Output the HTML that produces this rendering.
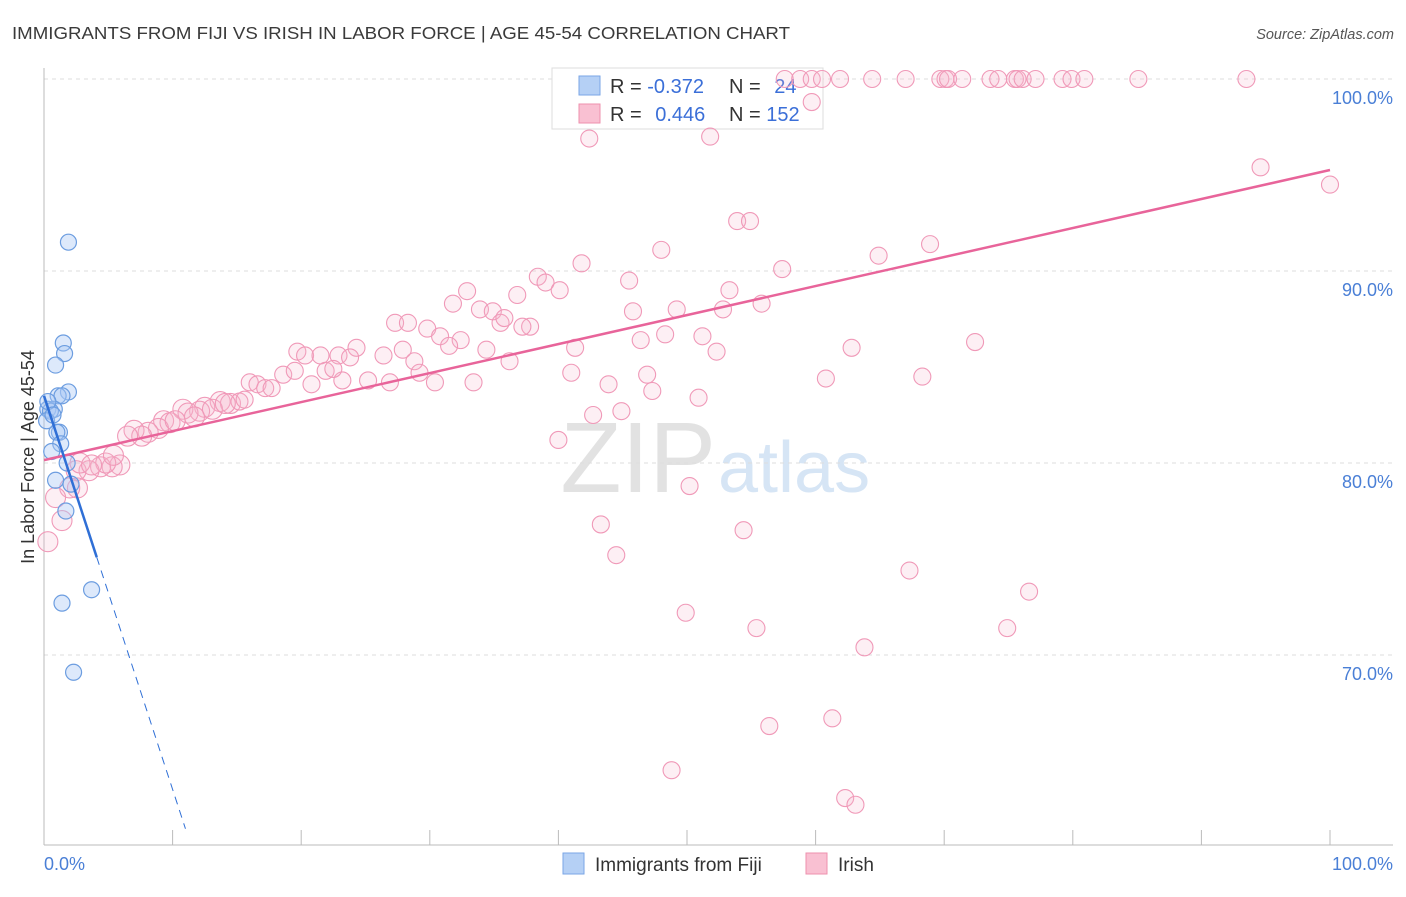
<!DOCTYPE html>
<html><head><meta charset="utf-8"><style>
body{margin:0;background:#fff;font-family:"Liberation Sans",sans-serif;}
svg text{font-family:"Liberation Sans",sans-serif;}
</style></head><body>
<svg id="c" width="1406" height="892" xmlns="http://www.w3.org/2000/svg">
<text x="12" y="39" font-size="17.5" fill="#3a3a3a" textLength="778" lengthAdjust="spacingAndGlyphs">IMMIGRANTS FROM FIJI VS IRISH IN LABOR FORCE | AGE 45-54 CORRELATION CHART</text>
<text x="1394" y="39" font-size="14.5" fill="#555" font-style="italic" text-anchor="end">Source: ZipAtlas.com</text>
<text x="716" y="492" font-size="100" fill="#e2e2e2" text-anchor="end" font-family="Liberation Serif">ZIP</text>
<text x="718" y="492" font-size="72" fill="#d6e5f5">atlas</text>
<g id="grid"></g>
<g>
<rect x="552" y="68" width="271" height="61" fill="#fff" stroke="#ddd"/>
<rect x="579" y="76" width="21" height="19" fill="#b5d0f5" stroke="#7aa6e6"/>
<rect x="579" y="104" width="21" height="19" fill="#f9c0d2" stroke="#ee90ae"/>
<text x="610" y="93" font-size="20" fill="#333">R = <tspan fill="#3b6fd8">-0.372</tspan></text>
<text x="729" y="93" font-size="20" fill="#333">N = <tspan fill="#3b6fd8" dx="8">24</tspan></text>
<text x="610" y="121" font-size="20" fill="#333">R = <tspan fill="#3b6fd8" dx="8">0.446</tspan></text>
<text x="729" y="121" font-size="20" fill="#333">N = <tspan fill="#3b6fd8">152</tspan></text>
</g>
<g id="marks"></g>
<text transform="translate(34,457) rotate(-90)" font-size="18" fill="#333" text-anchor="middle">In Labor Force | Age 45-54</text>
<g>
<rect x="563" y="853" width="21" height="21" fill="#b5d0f5" stroke="#7aa6e6"/>
<text x="595" y="871" font-size="19" fill="#333">Immigrants from Fiji</text>
<rect x="806" y="853" width="21" height="21" fill="#f9c0d2" stroke="#ee90ae"/>
<text x="838" y="871" font-size="19" fill="#333">Irish</text>
</g>
</svg>
<script>
const yTicks=[100,90,80,70];
const yTickLabels=["100.0%","90.0%","80.0%","70.0%"];
const xTickVals=[0,10,20,30,40,50,60,70,80,90,100];
const fijiX=[1.9,1.5,1.6,0.9,1.9,1.1,1.4,0.3,0.8,0.5,1.2,1.0,1.3,0.6,1.8,0.9,2.1,1.7,1.4,3.7,2.3,0.3,0.2,0.7];
const fijiY=[91.5,86.25,85.7,85.1,83.7,83.5,83.5,82.8,82.8,82.7,81.6,81.6,81.0,80.6,80.0,79.1,78.9,77.5,72.7,73.4,69.1,83.2,82.2,82.5];
const irishX=[57.6,58.8,59.7,60.5,61.9,64.4,67.0,69.7,70.1,70.3,71.4,73.6,74.2,75.5,75.7,76.1,77.1,79.2,79.9,80.9,85.1,93.5,59.7,42.4,51.8,94.6,100,53.9,54.9,48.0,68.9,64.9,57.4,41.8,38.4,39.0,40.1,45.5,36.8,32.9,31.8,33.9,34.9,35.5,35.8,37.8,37.2,45.8,49.2,52.8,53.3,55.8,27.3,28.3,29.8,30.8,32.4,31.5,24.3,26.4,27.9,28.8,19.7,20.3,21.5,22.9,23.8,25.2,23.2,26.9,29.2,30.4,33.4,34.4,36.2,41.3,46.4,48.3,51.2,52.3,62.8,72.4,16.0,16.6,17.2,17.7,18.6,19.5,20.8,21.9,22.5,13.7,14.5,15.2,12.5,12.1,13.1,10.8,11.2,11.7,9.3,9.8,8.9,8.1,7.0,7.6,6.5,5.9,5.3,4.4,4.8,3.5,2.5,5.4,2.6,2.0,0.9,1.4,0.3,43.9,41.0,46.9,47.3,60.8,68.3,50.9,42.7,44.9,40.0,50.2,43.3,54.4,44.5,67.3,76.6,49.9,55.4,74.9,63.8,56.4,61.3,48.8,62.3,63.1,2.8,3.7,10.2,14.1,15.6];
const irishY=[100,100,100,100,100,100,100,100,100,100,100,100,100,100,100,100,100,100,100,100,100,100,98.8,96.9,97.0,95.4,94.5,92.6,92.6,91.1,91.4,90.8,90.1,90.4,89.7,89.4,89.0,89.5,88.75,88.95,88.3,88.0,87.9,87.3,87.55,87.1,87.1,87.9,88.0,88.0,89.0,88.3,87.3,87.3,87.0,86.6,86.4,86.1,86.0,85.6,85.9,85.3,85.8,85.6,85.6,85.6,85.5,84.3,84.3,84.2,84.7,84.2,84.2,85.9,85.3,86.0,86.4,86.7,86.6,85.8,86.0,86.3,84.2,84.1,83.9,83.9,84.6,84.8,84.1,84.8,84.9,83.2,83.1,83.2,82.9,82.7,82.8,82.8,82.6,82.4,82.2,82.1,81.8,81.6,81.7,81.4,81.4,79.9,79.8,79.8,80.0,79.6,79.6,80.4,78.7,78.7,78.2,77.0,75.9,84.1,84.7,84.6,83.75,84.4,84.5,83.4,82.5,82.7,81.2,78.8,76.8,76.5,75.2,74.4,73.3,72.2,71.4,71.4,70.4,66.3,66.7,64.0,62.55,62.2,80.0,79.9,82.2,83.1,83.3];
const fijiTrend=[83.5,-2.05];
const irishTrend=[80.15,0.1511];
const X=v=>44+v*12.86, Y=v=>79+(100-v)*19.2;
const NS="http://www.w3.org/2000/svg";
function mk(t,a,p){const e=document.createElementNS(NS,t);for(const k in a)e.setAttribute(k,a[k]);p.appendChild(e);return e;}
const g=document.getElementById('grid'), m=document.getElementById('marks');
yTicks.forEach((v,i)=>{
 const l=mk('line',{x1:44,x2:1393,y1:Y(v),y2:Y(v),stroke:'#ddd','stroke-dasharray':'4,4'},g);
 
 
 const t=mk('text',{x:1393,y:Y(v)+25,'font-size':18,fill:'#4a7fd6','text-anchor':'end'},g);
 t.textContent=yTickLabels[i];
 
 
});
xTickVals.forEach(v=>{
 const l=mk('line',{x1:X(v),x2:X(v),y1:830,y2:845,stroke:'#bbb'},g);
 
 
});
let a=mk('line',{x1:44,x2:1393,y1:845,y2:845,stroke:'#bbb'},g);


a=mk('line',{x1:44,x2:44,y1:68,y2:845,stroke:'#bbb'},g);


let t=mk('text',{x:44,y:870,'font-size':18,fill:'#4a7fd6'},g);t.textContent='0.0%';


t=mk('text',{x:1393,y:870,'font-size':18,fill:'#4a7fd6','text-anchor':'end'},g);t.textContent='100.0%';


irishX.forEach((x,i)=>{
 const c=mk('circle',{cx:X(x),cy:Y(irishY[i]),r:x<15?10:8.5,fill:'rgba(248,180,204,0.22)',stroke:'#f099b8','stroke-width':1.1},m);
 
 
});
fijiX.forEach((x,i)=>{
 const c=mk('circle',{cx:X(x),cy:Y(fijiY[i]),r:8,fill:'rgba(170,200,245,0.4)',stroke:'#6c9de0','stroke-width':1.2},m);
 
 
});
let l=mk('line',{x1:X(0),y1:Y(irishTrend[0]),x2:X(100),y2:Y(irishTrend[0]+100*irishTrend[1]),stroke:'#e8649a','stroke-width':2.5},m);


l=mk('line',{x1:X(0),y1:Y(fijiTrend[0]),x2:X(4.1),y2:Y(fijiTrend[0]+4.1*fijiTrend[1]),stroke:'#2f6fd6','stroke-width':2.5},m);


l=mk('line',{x1:X(4.1),y1:Y(fijiTrend[0]+4.1*fijiTrend[1]),x2:X(11),y2:Y(fijiTrend[0]+11*fijiTrend[1]),stroke:'#2f6fd6','stroke-width':1,'stroke-dasharray':'8,6'},m);


</script>
</body></html>
